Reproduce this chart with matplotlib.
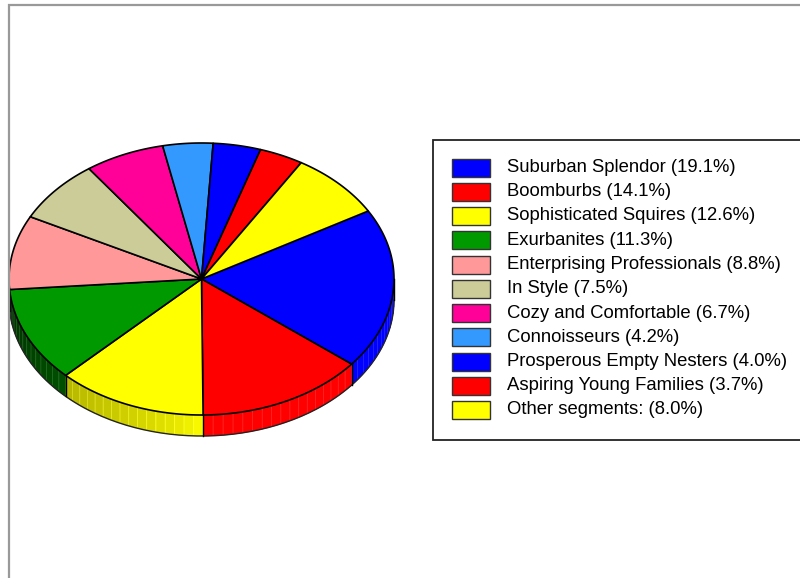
import numpy as np
import matplotlib.pyplot as plt
from matplotlib.patches import Polygon, Rectangle
from matplotlib.colors import to_rgb

segments = ["Suburban Splendor", "Boomburbs", "Sophisticated Squires", "Exurbanites",
            "Enterprising Professionals", "In Style", "Cozy and Comfortable",
            "Connoisseurs", "Prosperous Empty Nesters", "Aspiring Young Families",
            "Other segments:"]
shares = [19.1, 14.1, 12.6, 11.3, 8.8, 7.5, 6.7, 4.2, 4.0, 3.7, 8.0]
colors = ["#0000ff", "#ff0000", "#ffff00", "#009900", "#ff9999", "#cccc99",
          "#ff0099", "#3399ff", "#0000ff", "#ff0000", "#ffff00"]

plt.rcParams['font.family'] = ['Liberation Sans', 'DejaVu Sans']

fig = plt.figure(figsize=(8, 5.78), dpi=100)
ax = fig.add_axes([0, 0, 1, 1])
ax.set_xlim(0, 800)
ax.set_ylim(578, 0)
ax.axis('off')

# pie geometry (pixels)
cx, cy, rx, ry, depth = 201.5, 279.0, 192.5, 136.0, 21.0
start = 30.0

frac = np.array(shares) / np.sum(shares)
bounds = start - 360.0 * np.concatenate([[0.0], np.cumsum(frac)])


def pt(theta, dz=0.0):
    t = np.radians(theta)
    return cx + rx * np.cos(t), cy - ry * np.sin(t) + dz


def side_shade(col, theta):
    # darken the rim toward the left, full colour past the bottom
    t = theta % 360.0
    k = np.clip((270.0 - t) / 90.0, 0.0, 1.0) ** 0.6
    d = 110.0 / 255.0 * k
    r, g, b = to_rgb(col)
    return (max(r - d, 0), max(g - d, 0), max(b - d, 0))


# rim of the pie (only the front half is visible)
step = 3.0
for a0, a1, col in zip(bounds[:-1], bounds[1:], colors):
    n = max(int(np.ceil((a0 - a1) / step)), 1)
    th = np.linspace(a1, a0, n + 1)
    for ta, tb in zip(th[:-1], th[1:]):
        mid = 0.5 * (ta + tb)
        if np.sin(np.radians(mid)) >= 0:
            continue
        seg = np.linspace(ta, tb, 4)
        top = [pt(s) for s in seg]
        bot = [pt(s, depth) for s in seg[::-1]]
        c = side_shade(col, mid)
        light = tuple(min(v + 0.12, 1.0) for v in c)
        ax.add_patch(Polygon(top + bot, closed=True, facecolor=c,
                             edgecolor=light, linewidth=0.5, zorder=1))

# outline of the rim
th = np.linspace(180, 360, 200)
bx, by = zip(*[pt(s, depth) for s in th])
ax.plot(bx, by, color='#222222', linewidth=1.0, zorder=2)
for b in list(bounds) + [180.0, 360.0]:
    if np.sin(np.radians(b)) <= 1e-9:
        x0, y0 = pt(b)
        x1, y1 = pt(b, depth)
        ax.plot([x0, x1], [y0, y1], color='black', linewidth=1.0, zorder=2)

# top face
for a0, a1, col in zip(bounds[:-1], bounds[1:], colors):
    th = np.linspace(a0, a1, 80)
    verts = [(cx, cy)] + [pt(s) for s in th]
    ax.add_patch(Polygon(verts, closed=True, facecolor=col, edgecolor='black',
                         linewidth=1.2, joinstyle='round', zorder=3))

# legend box
ax.add_patch(Rectangle((433, 139.5), 420, 300, facecolor='white',
                       edgecolor='#222222', linewidth=1.3, zorder=4))
row0, dy = 167.5, 24.25
for i, (name, share, col) in enumerate(zip(segments, shares, colors)):
    yc = row0 + i * dy
    ax.add_patch(Rectangle((452, yc - 9), 38, 18, facecolor=col,
                           edgecolor='#333333', linewidth=1.0, zorder=5))
    ax.text(507, yc, f"{name} ({share:.1f}%)", fontsize=13.3, va='center',
            ha='left', color='black', zorder=5)

# outer frame
ax.plot([8.5, 8.5, 800], [578, 4.5, 4.5], color='#999999', linewidth=1.6,
        zorder=6, solid_joinstyle='miter')

fig.savefig('out.png', dpi=100)
